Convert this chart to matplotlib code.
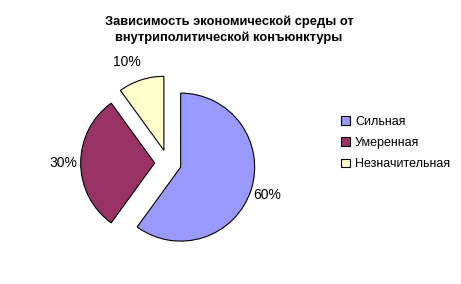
import matplotlib
matplotlib.use("Agg")
import matplotlib.pyplot as plt

plt.rcParams['font.family'] = ['Liberation Sans', 'DejaVu Sans']

# данные
labels = ["Сильная", "Умеренная", "Незначительная"]
values = [60, 30, 10]
colors = ["#9999FF", "#993366", "#FFFFCC"]
title = "Зависимость экономической среды от\nвнутриполитической конъюнктуры"

W, H = 461, 284
fig = plt.figure(figsize=(W / 100, H / 100), dpi=100)

# центр круга ~ (168, 163) px, радиус ~74 px
cx, cy, r = 168, 163, 74
half = 1.6 * r
ax = fig.add_axes([(cx - half) / W, (H - cy - half) / H, 2 * half / W, 2 * half / H])

wedges, texts, autotexts = ax.pie(
    values, colors=colors, startangle=90, counterclock=False,
    explode=[0.18, 0.18, 0.18], autopct="%1.0f%%", pctdistance=1.23,
    wedgeprops=dict(edgecolor="black", linewidth=0.8),
    textprops=dict(fontsize=10, color="black"))
# подпись 10% чуть левее, как в оригинале
x10, y10 = autotexts[2].get_position()
autotexts[2].set_position((x10 - 0.12, y10 + 0.02))
ax.set_xlim(-1.6, 1.6)
ax.set_ylim(-1.6, 1.6)
ax.set_aspect("equal")

fig.text(229 / W, 1 - 30 / H, title, ha="center", va="center",
         fontsize=9.3, fontweight="bold", linespacing=1.35)

ax.legend(wedges, labels, loc="center left", frameon=False,
          bbox_to_anchor=(335 / W, 1 - 143 / H), bbox_transform=fig.transFigure,
          fontsize=9, handlelength=0.7, handleheight=0.7, handletextpad=0.4,
          labelspacing=0.75, borderpad=0)

fig.savefig("out.png", dpi=100)
